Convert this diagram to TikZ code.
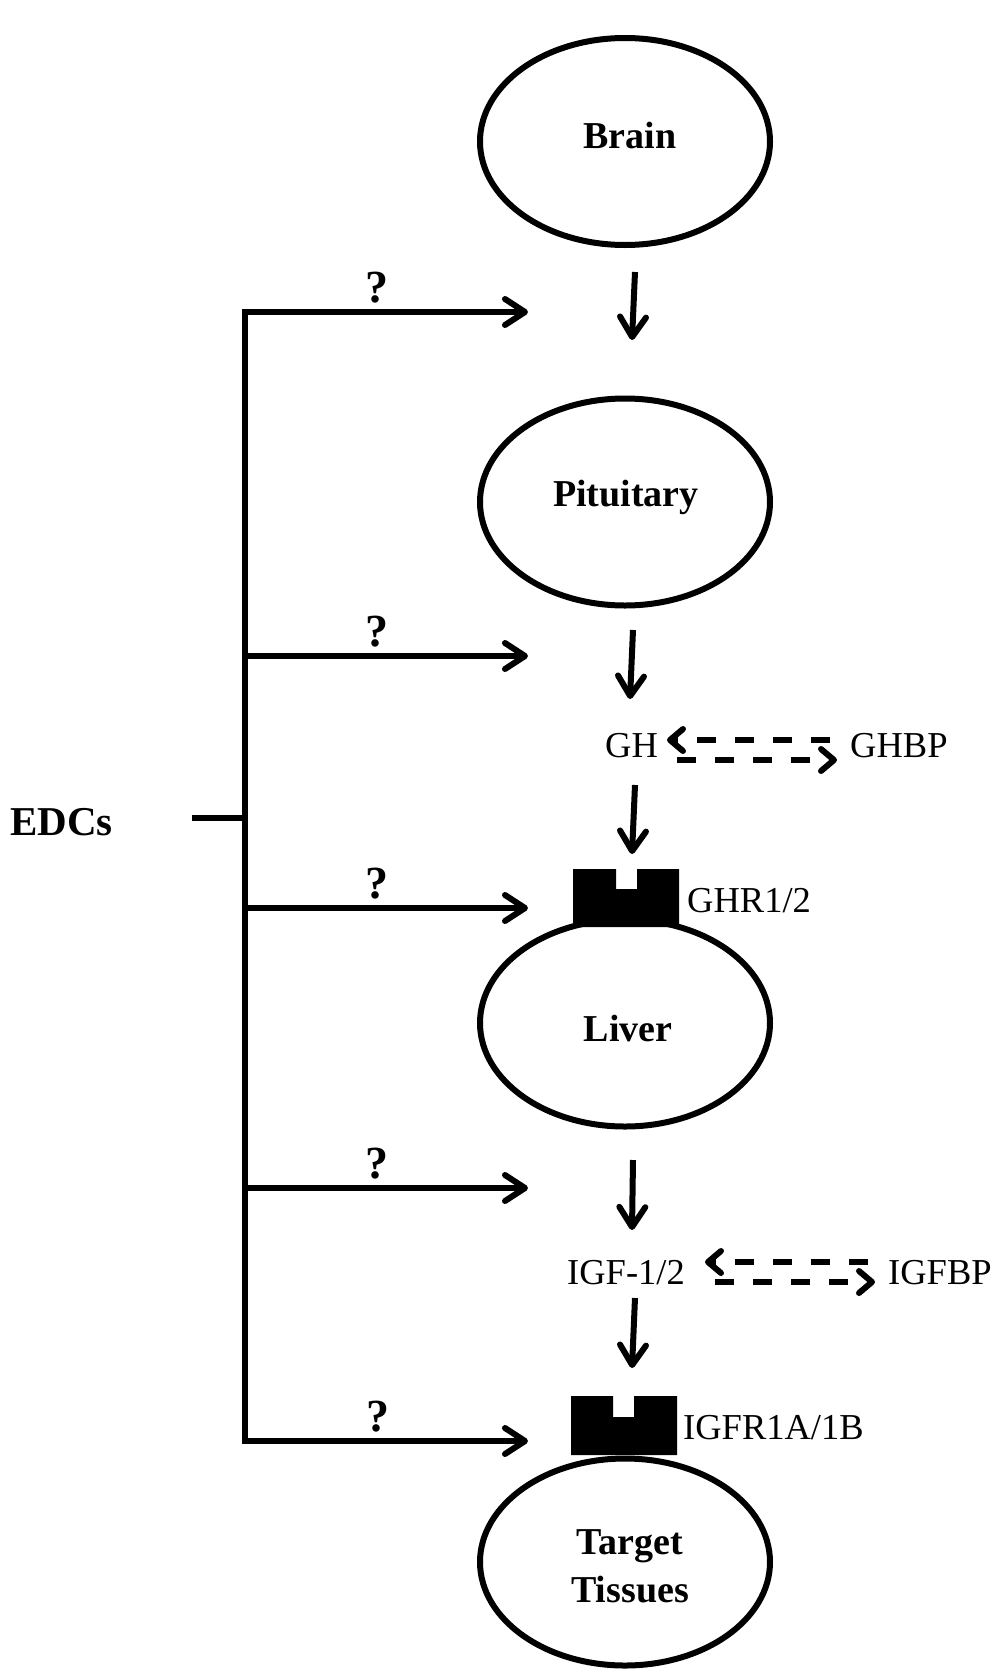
\documentclass[tikz,border=0pt]{standalone}
\usepackage{fontspec}
\setmainfont{Liberation Serif}
\usetikzlibrary{arrows.meta,shapes.geometric}
\begin{document}
\begin{tikzpicture}[x=1pt,y=-1pt,
  organ/.style={draw,line width=6pt,ellipse,minimum width=290pt,minimum height=207pt,inner sep=0pt},
  boldlbl/.style={inner sep=0pt,font=\fontsize{38}{48}\selectfont\bfseries},
  plainlbl/.style={inner sep=0pt,font=\fontsize{36.5}{44}\selectfont},
  qlbl/.style={inner sep=0pt,anchor=base,font=\fontsize{46}{50}\selectfont\bfseries},
  flow/.style={line width=6pt,-{Straight Barb[length=20pt,width=26pt,round]}},
  effect/.style={line width=6pt,-{Straight Barb[length=20pt,width=26pt,round]}},
  bind/.style={line width=6pt,dash pattern=on 19pt off 19pt,-{Straight Barb[length=13pt,width=22pt,round]}},
  receptor/.style={fill=black}
]
\useasboundingbox (0,0) rectangle (1000,1673);

% organs
\node[organ] (brain) at (625,141.5) {};
\node[organ] (pituitary) at (625,502) {};
\node[organ] (liver) at (625,1023) {};
\node[organ] (target) at (625,1562) {};

\node[boldlbl,anchor=base] (brainlbl) at (630,148) {Brain};
\node[boldlbl,anchor=base] (pitlbl) at (626,506) {Pituitary};
\node[boldlbl,anchor=base] (liverlbl) at (628,1041) {Liver};
\node[boldlbl,align=center] (targetlbl) at (630,1566) {Target\\Tissues};

% receptors
\fill[receptor] (573,869) -- (616,869) -- (616,889) -- (637,889) -- (637,869)
  -- (679,869) -- (679,927) -- (573,927) -- cycle;
\fill[receptor] (571,1396) -- (613,1396) -- (613,1417) -- (634,1417) -- (634,1396)
  -- (677,1396) -- (677,1455) -- (571,1455) -- cycle;

% hormone labels
\node[plainlbl,anchor=base west] (gh) at (605,757) {GH};
\node[plainlbl,anchor=base west] (ghbp) at (850,757) {GHBP};
\node[plainlbl,anchor=base west] (ghrlbl) at (687,912) {GHR1/2};
\node[plainlbl,anchor=base west] (igf) at (567,1284) {IGF-1/2};
\node[plainlbl,anchor=base west] (igfbp) at (888,1284) {IGFBP};
\node[plainlbl,anchor=base west] (igfrlbl) at (683,1439) {IGFR1A/1B};
\node[inner sep=0pt,anchor=base west,font=\fontsize{41}{48}\selectfont\bfseries] (edcs) at (10,835) {EDCs};

% vertical flow arrows
\coordinate (a1s) at (635,272); \coordinate (a1e) at (632,340);
\coordinate (a2s) at (633,630); \coordinate (a2e) at (630,699);
\coordinate (a3s) at (635,785); \coordinate (a3e) at (632,854);
\coordinate (a4s) at (633,1160); \coordinate (a4e) at (632,1230);
\coordinate (a5s) at (635,1298); \coordinate (a5e) at (632,1368);
\draw[flow] (a1s) -- (a1e);
\draw[flow] (a2s) -- (a2e);
\draw[flow] (a3s) -- (a3e);
\draw[flow] (a4s) -- (a4e);
\draw[flow] (a5s) -- (a5e);

% binding protein exchanges
\coordinate (d1s) at (830,740); \coordinate (d1e) at (667,740);
\coordinate (d2s) at (677,760); \coordinate (d2e) at (837,760);
\coordinate (d3s) at (868,1262); \coordinate (d3e) at (705,1262);
\coordinate (d4s) at (715,1282); \coordinate (d4e) at (875,1282);
\draw[bind] (d1s) -- (d1e);
\draw[bind] (d2s) -- (d2e);
\draw[bind] (d3s) -- (d3e);
\draw[bind] (d4s) -- (d4e);

% EDC trunk
\coordinate (stub) at (192,818);
\coordinate (trunkmid) at (245,818);
\coordinate (t1) at (245,312); \coordinate (e1) at (528,312);
\coordinate (t2) at (245,656); \coordinate (e2) at (528,656);
\coordinate (t3) at (245,908); \coordinate (e3) at (528,908);
\coordinate (t4) at (245,1188); \coordinate (e4) at (528,1188);
\coordinate (t5) at (245,1441); \coordinate (e5) at (528,1441);
\draw[line width=6pt] (stub) -- (trunkmid);
\draw[line width=6pt,{Straight Barb[length=20pt,width=26pt,round]}-{Straight Barb[length=20pt,width=26pt,round]}]
  (e1) -- (t1) -- (t5) -- (e5);
\draw[effect] (t2) -- (e2);
\draw[effect] (t3) -- (e3);
\draw[effect] (t4) -- (e4);

\node[qlbl] (q1) at (377,302) {?};
\node[qlbl] (q2) at (377,646) {?};
\node[qlbl] (q3) at (377,898) {?};
\node[qlbl] (q4) at (377,1178) {?};
\node[qlbl] (q5) at (378,1431) {?};
\end{tikzpicture}
\end{document}
